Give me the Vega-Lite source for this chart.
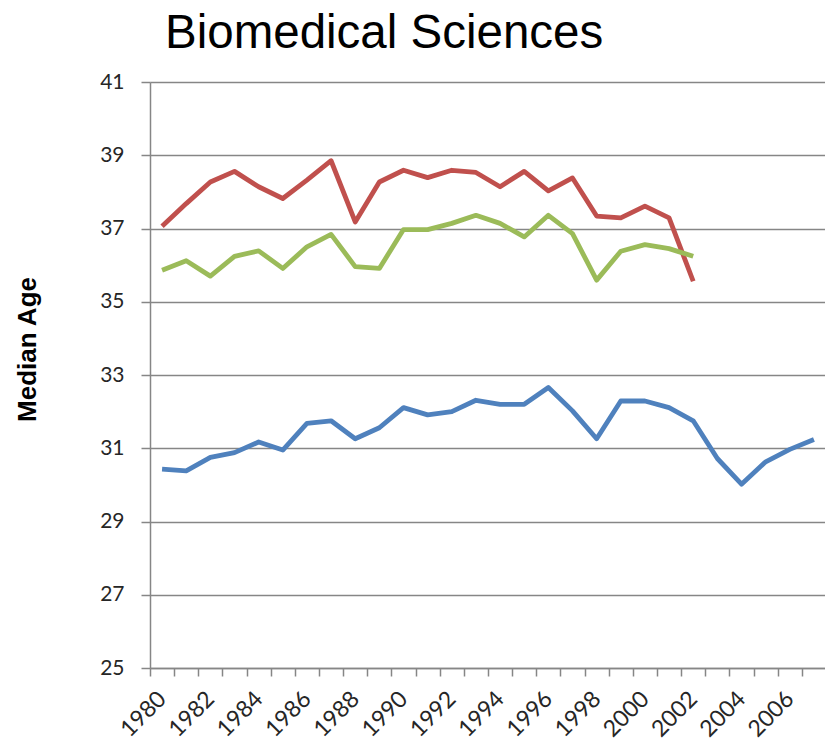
{
  "$schema": "https://vega.github.io/schema/vega-lite/v6.json",
  "autosize": {"type": "none"},
  "padding": {"left": 150, "top": 82, "right": 0, "bottom": 75},
  "width": 676,
  "height": 586,
  "background": "white",
  "title": {
    "text": "Biomedical Sciences",
    "anchor": "start",
    "frame": "group",
    "dx": 15,
    "offset": -24,
    "baseline": "alphabetic",
    "font": "Liberation Sans",
    "fontSize": 47.5,
    "fontWeight": "normal",
    "color": "#000000"
  },
  "config": {
    "view": {"stroke": null}
  },
  "data": {
    "values": [
      {"year": 1980, "series": "A", "age": 37.06},
      {"year": 1981, "series": "A", "age": 37.68},
      {"year": 1982, "series": "A", "age": 38.27},
      {"year": 1983, "series": "A", "age": 38.56},
      {"year": 1984, "series": "A", "age": 38.14},
      {"year": 1985, "series": "A", "age": 37.82},
      {"year": 1986, "series": "A", "age": 38.32},
      {"year": 1987, "series": "A", "age": 38.85},
      {"year": 1988, "series": "A", "age": 37.18},
      {"year": 1989, "series": "A", "age": 38.27},
      {"year": 1990, "series": "A", "age": 38.59},
      {"year": 1991, "series": "A", "age": 38.39},
      {"year": 1992, "series": "A", "age": 38.59},
      {"year": 1993, "series": "A", "age": 38.53},
      {"year": 1994, "series": "A", "age": 38.14},
      {"year": 1995, "series": "A", "age": 38.56},
      {"year": 1996, "series": "A", "age": 38.03},
      {"year": 1997, "series": "A", "age": 38.38},
      {"year": 1998, "series": "A", "age": 37.34},
      {"year": 1999, "series": "A", "age": 37.29},
      {"year": 2000, "series": "A", "age": 37.61},
      {"year": 2001, "series": "A", "age": 37.29},
      {"year": 2002, "series": "A", "age": 35.56},
      {"year": 1980, "series": "B", "age": 35.86},
      {"year": 1981, "series": "B", "age": 36.12},
      {"year": 1982, "series": "B", "age": 35.70},
      {"year": 1983, "series": "B", "age": 36.24},
      {"year": 1984, "series": "B", "age": 36.39},
      {"year": 1985, "series": "B", "age": 35.91},
      {"year": 1986, "series": "B", "age": 36.50},
      {"year": 1987, "series": "B", "age": 36.84},
      {"year": 1988, "series": "B", "age": 35.96},
      {"year": 1989, "series": "B", "age": 35.91},
      {"year": 1990, "series": "B", "age": 36.97},
      {"year": 1991, "series": "B", "age": 36.97},
      {"year": 1992, "series": "B", "age": 37.14},
      {"year": 1993, "series": "B", "age": 37.36},
      {"year": 1994, "series": "B", "age": 37.14},
      {"year": 1995, "series": "B", "age": 36.77},
      {"year": 1996, "series": "B", "age": 37.36},
      {"year": 1997, "series": "B", "age": 36.86},
      {"year": 1998, "series": "B", "age": 35.59},
      {"year": 1999, "series": "B", "age": 36.38},
      {"year": 2000, "series": "B", "age": 36.56},
      {"year": 2001, "series": "B", "age": 36.45},
      {"year": 2002, "series": "B", "age": 36.24},
      {"year": 1980, "series": "C", "age": 30.43},
      {"year": 1981, "series": "C", "age": 30.38},
      {"year": 1982, "series": "C", "age": 30.75},
      {"year": 1983, "series": "C", "age": 30.88},
      {"year": 1984, "series": "C", "age": 31.17},
      {"year": 1985, "series": "C", "age": 30.95},
      {"year": 1986, "series": "C", "age": 31.68},
      {"year": 1987, "series": "C", "age": 31.75},
      {"year": 1988, "series": "C", "age": 31.26},
      {"year": 1989, "series": "C", "age": 31.56},
      {"year": 1990, "series": "C", "age": 32.11},
      {"year": 1991, "series": "C", "age": 31.91},
      {"year": 1992, "series": "C", "age": 32.00},
      {"year": 1993, "series": "C", "age": 32.31},
      {"year": 1994, "series": "C", "age": 32.20},
      {"year": 1995, "series": "C", "age": 32.20},
      {"year": 1996, "series": "C", "age": 32.66},
      {"year": 1997, "series": "C", "age": 32.02},
      {"year": 1998, "series": "C", "age": 31.26},
      {"year": 1999, "series": "C", "age": 32.29},
      {"year": 2000, "series": "C", "age": 32.29},
      {"year": 2001, "series": "C", "age": 32.11},
      {"year": 2002, "series": "C", "age": 31.75},
      {"year": 2003, "series": "C", "age": 30.72},
      {"year": 2004, "series": "C", "age": 30.02},
      {"year": 2005, "series": "C", "age": 30.63},
      {"year": 2006, "series": "C", "age": 30.97},
      {"year": 2007, "series": "C", "age": 31.24}
    ]
  },
  "mark": {"type": "line", "strokeWidth": 4.8, "strokeJoin": "round"},
  "encoding": {
    "x": {
      "field": "year",
      "type": "ordinal",
      "scale": {"type": "band", "paddingInner": 0, "paddingOuter": 0},
      "axis": {
        "title": null,
        "tickBand": "extent",
        "labelExpr": "datum.value % 2 == 0 ? datum.label : ''",
        "labelAngle": -45,
        "labelAlign": "right",
        "labelBaseline": "middle",
        "labelFont": "Lato",
        "labelFontSize": 23,
        "labelColor": "#262626",
        "labelPadding": 19,
        "labelOverlap": false,
        "labelBound": false,
        "tickSize": 8,
        "tickColor": "#868686",
        "tickWidth": 1.5,
        "domainColor": "#868686",
        "domainWidth": 1.5,
        "grid": false
      }
    },
    "y": {
      "field": "age",
      "type": "quantitative",
      "scale": {"domain": [25, 41], "nice": false, "zero": false},
      "axis": {
        "title": "Median Age",
        "titleFont": "Liberation Sans",
        "titleFontSize": 26,
        "titleFontWeight": "bold",
        "titleColor": "#000000",
        "titleAngle": -90,
        "titleX": -123,
        "titleY": 267,
        "titleAlign": "center",
        "titleBaseline": "middle",
        "values": [25, 27, 29, 31, 33, 35, 37, 39, 41],
        "labelFont": "Lato",
        "labelFontSize": 21,
        "labelColor": "#262626",
        "labelPadding": 17,
        "tickSize": 9,
        "tickColor": "#868686",
        "tickWidth": 1.5,
        "domainColor": "#868686",
        "domainWidth": 1.5,
        "grid": true,
        "gridColor": "#868686",
        "gridWidth": 1.5
      }
    },
    "color": {
      "field": "series",
      "type": "nominal",
      "scale": {"domain": ["A", "B", "C"], "range": ["#C0504D", "#9BBB59", "#4F81BD"]},
      "legend": null
    },
    "order": {"field": "year"}
  }
}
